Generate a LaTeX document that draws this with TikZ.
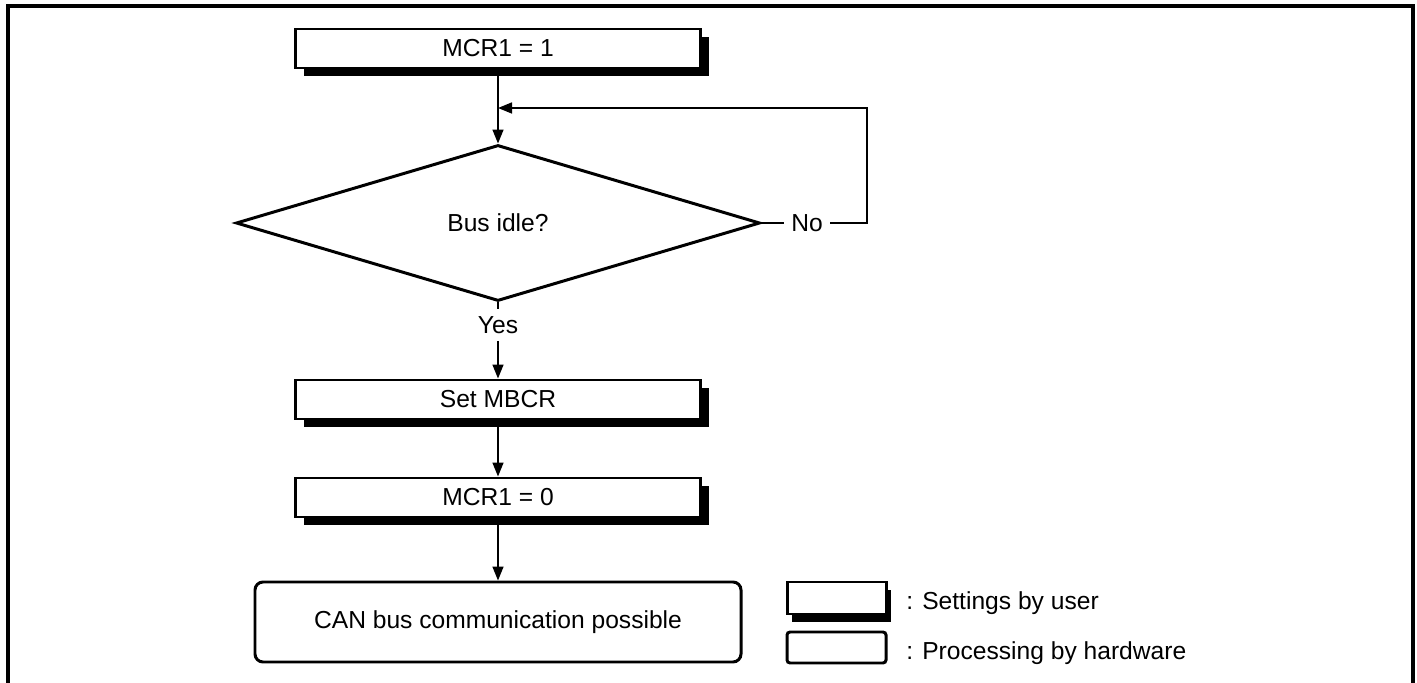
\documentclass[tikz,border=0pt]{standalone}
\usepackage{fontspec}
\setmainfont{Liberation Sans}
\usetikzlibrary{shapes.geometric,arrows.meta,shadows}

\begin{document}
\begin{tikzpicture}[
    txt/.style={font=\fontsize{14pt}{16pt}\selectfont},
    userbox/.style={txt, draw, fill=white, line width=1.7pt, inner sep=0pt,
      minimum width=8.1cm, minimum height=0.78cm,
      drop shadow={shadow xshift=0.16cm, shadow yshift=-0.16cm, fill=black, opacity=1}},
    hwbox/.style={txt, draw, fill=white, line width=1.7pt, rounded corners=0.16cm,
      inner sep=0pt, minimum width=9.72cm, minimum height=1.6cm},
    decision/.style={txt, diamond, draw, line width=1.7pt, inner sep=0pt, aspect=3.36,
      minimum width=10.48cm, minimum height=3.12cm},
    keyuser/.style={draw, fill=white, line width=1.7pt, minimum width=1.98cm, minimum height=0.64cm,
      drop shadow={shadow xshift=0.1cm, shadow yshift=-0.16cm, fill=black, opacity=1}},
    keyhw/.style={draw, line width=1.7pt, rounded corners=0.06cm, minimum width=1.98cm, minimum height=0.62cm},
    lbl/.style={txt, inner sep=0.14cm},
    wire/.style={line width=0.9pt},
    arr/.style={wire, -{Triangle[length=0.28cm, width=0.22cm]}},
  ]
  \useasboundingbox (0,0) rectangle (28.34,-13.66);

  % ---- outer frame (open at the bottom)
  \draw[line width=2.3pt] (0.16,-13.9) |- (28.26,-0.12) -- (28.26,-13.9);

  % ---- flow
  \node[userbox] (set1) at (9.96,-0.97) {MCR1 = 1};
  \node[decision] (idle) at (9.96,-4.46) {Bus idle?};
  \node[lbl] (yes) at (9.96,-6.5) {Yes};
  \node[userbox] (setmbcr) at (9.96,-7.99) {Set MBCR};
  \node[userbox] (set0) at (9.96,-9.95) {MCR1 = 0};
  \node[hwbox] (canok) at (9.96,-12.44) {CAN bus communication possible};

  % ---- retry loop on No
  \node[lbl] (no) at (16.14,-4.46) {No};
  \coordinate (loopr) at (17.34,-4.46);
  \coordinate (join) at (9.96,-2.16);

  \draw[arr] (set1.south) -- (idle.north);
  \draw[wire] (idle.east) -- (no.west);
  \draw[arr] (no.east) -- (loopr) |- (join);
  \draw[wire] (idle.south) -- (yes.north);
  \draw[arr] (yes.south) -- (setmbcr.north);
  \draw[arr] (setmbcr.south) -- (set0.north);
  \draw[arr] (set0.south) -- (canok.north);

  % ---- legend
  \node[keyuser] (keyuser) at (16.73,-11.96) {};
  \node[keyhw] (keyhw) at (16.73,-12.95) {};
  \node[txt, anchor=west, inner sep=0pt] (keyusertxt) at (18.12,-12.06) {: Settings by user};
  \node[txt, anchor=west, inner sep=0pt] (keyhwtxt) at (18.12,-13.06) {: Processing by hardware};
\end{tikzpicture}
\end{document}
